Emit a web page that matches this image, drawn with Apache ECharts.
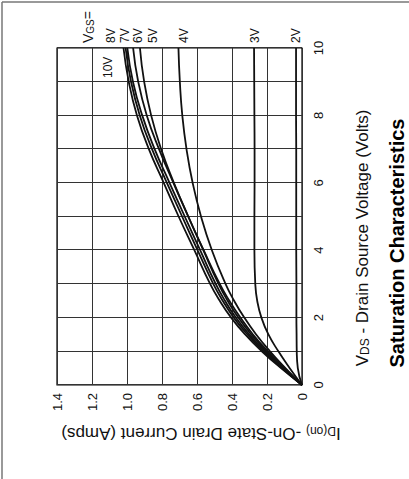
<!DOCTYPE html>
<html><head><meta charset="utf-8">
<script src="https://cdn.jsdelivr.net/npm/echarts@6/dist/echarts.min.js"></script>
<style>
html,body{margin:0;padding:0;width:409px;height:479px;overflow:hidden;background:#fff;}
#chart{position:absolute;left:0;top:479px;width:479px;height:409px;transform-origin:0 0;transform:rotate(-90deg);}
</style></head><body><div id="chart"></div>
<script>
// Drain-source voltage sample points (Volts)
const vds = [0, 0.5, 1, 1.5, 2, 2.5, 3, 4, 5, 6, 7, 8, 9, 10];
// Drain current (Amps) for each gate voltage
const id10V = [0, 0.12, 0.23, 0.325, 0.405, 0.47, 0.525, 0.615, 0.705, 0.79, 0.875, 0.943, 0.99, 1.02];
const id8V  = [0, 0.115, 0.22, 0.312, 0.39, 0.453, 0.507, 0.597, 0.685, 0.772, 0.857, 0.927, 0.977, 1.008];
const id7V  = [0, 0.11, 0.212, 0.302, 0.378, 0.44, 0.493, 0.582, 0.67, 0.757, 0.842, 0.913, 0.966, 0.998];
const id6V  = [0, 0.105, 0.203, 0.29, 0.364, 0.425, 0.477, 0.564, 0.65, 0.735, 0.817, 0.887, 0.936, 0.965];
const id5V  = [0, 0.10, 0.195, 0.28, 0.352, 0.415, 0.47, 0.562, 0.65, 0.732, 0.805, 0.862, 0.902, 0.926];
const id4V  = [0, 0.095, 0.183, 0.262, 0.33, 0.388, 0.437, 0.515, 0.577, 0.625, 0.66, 0.684, 0.698, 0.706];
const id3V  = [0, 0.07, 0.135, 0.192, 0.232, 0.256, 0.267, 0.272, 0.272, 0.271, 0.271, 0.272, 0.273, 0.274];
const id2V  = [0, 0.024, 0.03, 0.031, 0.032, 0.032, 0.032, 0.033, 0.033, 0.033, 0.033, 0.034, 0.034, 0.034];
const seriesNames = ['10V', '8V', '7V', '6V', '5V', '4V', '3V', '2V'];
const seriesValues = [id10V, id8V, id7V, id6V, id5V, id4V, id3V, id2V];
// Tick labels
const vdsTickLabels = [0, 2, 4, 6, 8, 10];
const idTickLabels = ['0', '0.2', '0.4', '0.6', '0.8', '1.0', '1.2', '1.4'];
// Gate voltage labels
const vgsLabels = ['8V', '7V', '6V', '5V', '4V', '3V', '2V'];

const FONT = "'Liberation Sans', Arial, sans-serif";
const chart = echarts.init(document.getElementById('chart'), null, {renderer: 'svg', width: 479, height: 409});

const series = seriesNames.map((name, k) => ({
  name: name,
  type: 'line',
  data: vds.map((x, i) => [x, seriesValues[k][i]]),
  showSymbol: false,
  smooth: 0.5,
  silent: true,
  lineStyle: {color: '#111', width: 1.8}
}));

// label anchor rows (pixel y in chart frame) for VGS labels
const vgsRows = [111, 125, 138, 153, 184, 255, 296];
const graphics = [
  {type: 'line', shape: {x1: 477, y1: 2, x2: 477, y2: 409}, style: {stroke: '#777', lineWidth: 1.5}},
  {type: 'line', shape: {x1: 0, y1: 2, x2: 477, y2: 2}, style: {stroke: '#777', lineWidth: 1.5}},
  {type: 'text', x: 236, y: 397, style: {text: 'Saturation Characteristics', font: 'bold 20px ' + FONT, fill: '#000', textAlign: 'center', textVerticalAlign: 'middle'}},
  {type: 'text', x: 241, y: 362, style: {
    text: '{a|V}{b|DS}{a| - Drain Source Voltage (Volts)}',
    textAlign: 'center', textVerticalAlign: 'middle', fill: '#111',
    rich: {a: {fontSize: 17, fontFamily: FONT, fill: '#111'}, b: {fontSize: 12, fontFamily: FONT, fill: '#111', verticalAlign: 'bottom'}}
  }},
  {type: 'text', x: 46, y: 201, rotation: Math.PI / 2, style: {
    text: '{a|I}{b|D(on)}{a| -On-State Drain Current (Amps)}',
    textAlign: 'center', textVerticalAlign: 'middle', fill: '#111',
    rich: {a: {fontSize: 17, fontFamily: FONT, fill: '#111'}, b: {fontSize: 12, fontFamily: FONT, fill: '#111', verticalAlign: 'bottom'}}
  }},
  {type: 'text', x: 436, y: 88, style: {
    text: '{a|V}{b|GS}{a|=}', textAlign: 'left', textVerticalAlign: 'middle', fill: '#111',
    rich: {a: {fontSize: 14, fontFamily: FONT, fill: '#111'}, b: {fontSize: 10, fontFamily: FONT, fill: '#111', verticalAlign: 'bottom'}}
  }},
  {type: 'text', x: 401, y: 108, style: {text: '10V', font: '12px ' + FONT, fill: '#111', textAlign: 'left', textVerticalAlign: 'middle'}}
];
vgsLabels.forEach((t, i) => {
  graphics.push({type: 'text', x: 436, y: vgsRows[i], style: {text: t, font: '12px ' + FONT, fill: '#111', textAlign: 'left', textVerticalAlign: 'middle'}});
});

chart.setOption({
  animation: false,
  backgroundColor: '#fff',
  grid: {left: 94, right: 48, top: 57, bottom: 107, show: true, borderColor: '#000', borderWidth: 1.2, backgroundColor: 'transparent'},
  xAxis: {
    type: 'value', min: 0, max: 10, interval: 1,
    axisLine: {show: false}, axisTick: {show: false},
    splitLine: {show: true, lineStyle: {color: '#333', width: 1}},
    axisLabel: {margin: 10, color: '#111', fontSize: 13, fontFamily: FONT,
      formatter: v => (vdsTickLabels.indexOf(v) >= 0 ? String(v) : '')}
  },
  yAxis: {
    type: 'value', min: 0, max: 1.4, interval: 0.2,
    axisLine: {show: false}, axisTick: {show: false},
    splitLine: {show: true, lineStyle: {color: '#333', width: 1}},
    axisLabel: {margin: 8, color: '#111', fontSize: 13, fontFamily: FONT,
      formatter: (v) => idTickLabels[Math.round(v / 0.2)]}
  },
  graphic: graphics,
  series: series
});
</script></body></html>
